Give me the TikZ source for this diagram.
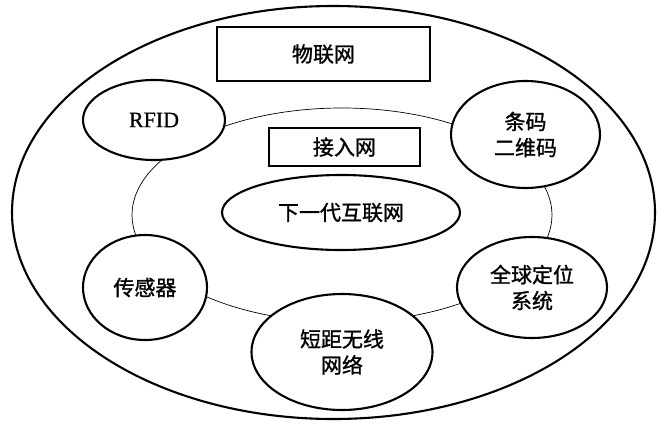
\documentclass[tikz,border=0pt]{standalone}
\usepackage{fontspec}
\newfontfamily\cjk[FakeBold=1.2]{Noto Sans CJK SC}
\newfontfamily\tms[FakeBold=0.6]{Liberation Serif}
\usetikzlibrary{shapes.geometric}
\tikzset{
  oval/.style={ellipse, draw, line width=2.1pt, fill=white, inner sep=0pt, align=center,
    font=\cjk\fontsize{21}{26}\selectfont},
  labelbox/.style={rectangle, draw, line width=1.7pt, fill=white, inner sep=0pt,
    font=\cjk\fontsize{21}{26}\selectfont},
  ringline/.style={ellipse, draw, line width=0.7pt, inner sep=0pt},
  outerline/.style={ellipse, draw, line width=2.1pt, inner sep=0pt}
}
\begin{document}
\begin{tikzpicture}[x=1pt,y=-1pt]
\useasboundingbox (0,0) rectangle (658,423);
\node[outerline, minimum width=643pt, minimum height=413pt] (outer) at (333.5,212.5) {};
\node[ringline, minimum width=420pt, minimum height=214pt] (ring) at (342,215) {};
\node[labelbox, minimum width=213pt, minimum height=54pt] (iot) at (323.5,54) {物联网};
\node[labelbox, minimum width=151pt, minimum height=38pt] (access) at (344.5,147) {接入网};
\node[oval, minimum width=142pt, minimum height=80pt, font=\tms\fontsize{22}{26}\selectfont] (rfid) at (154,120) {RFID};
\node[oval, minimum width=149pt, minimum height=107pt] (code) at (525.5,134.5) {条码\\二维码};
\node[oval, minimum width=238pt, minimum height=75pt] (ngi) at (341,212.5) {下一代互联网};
\node[oval, minimum width=124pt, minimum height=105pt] (sensor) at (145,287.5) {传感器};
\node[oval, minimum width=150pt, minimum height=101pt] (gps) at (532,287.5) {全球定位\\系统};
\node[oval, minimum width=181pt, minimum height=116pt] (short) at (342,352) {短距无线\\网络};
\end{tikzpicture}
\end{document}
